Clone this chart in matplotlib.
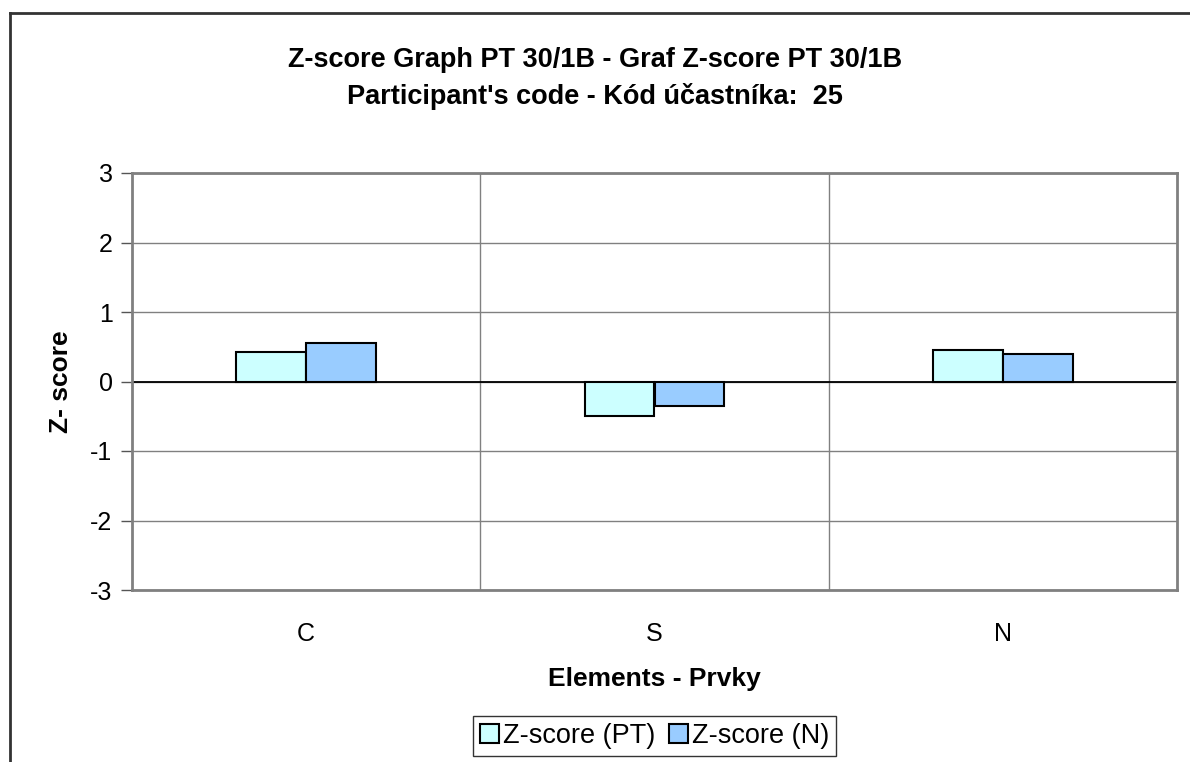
import matplotlib
matplotlib.use('Agg')
import matplotlib.pyplot as plt
from matplotlib.lines import Line2D
import numpy as np

# Data
elements = ['C', 'S', 'N']
z_pt = [0.42, -0.50, 0.45]
z_n = [0.56, -0.35, 0.40]

plt.rcParams['font.family'] = ['Liberation Sans', 'DejaVu Sans']
plt.rcParams['axes.unicode_minus'] = False

W, H = 1190, 762
fig = plt.figure(figsize=(W / 100, H / 100), dpi=100)

# plot area placed in pixel terms
left, right, top, bottom = 132, 1177, 173, 590
ax = fig.add_axes([left / W, 1 - bottom / H, (right - left) / W, (bottom - top) / H])

x = np.arange(len(elements))
w = 0.2
ax.bar(x - w / 2, z_pt, w, color='#CCFFFF', edgecolor='black', linewidth=1.5,
       label='Z-score (PT)', zorder=3)
ax.bar(x + w / 2, z_n, w, color='#99CCFF', edgecolor='black', linewidth=1.5,
       label='Z-score (N)', zorder=3)

ax.set_xlim(-0.5, len(elements) - 0.5)
ax.set_ylim(-3, 3)
ax.set_yticks(range(-3, 4))
ax.set_xticks(x)
ax.set_xticklabels(elements, fontsize=18)
ax.set_xticks(np.arange(0.5, len(elements) - 0.5), minor=True)
ax.tick_params(axis='x', which='both', length=0, pad=23)
ax.tick_params(axis='y', labelsize=18, length=8, width=1, color='#555555', pad=6)

ax.grid(axis='y', color='#808080', linewidth=1, zorder=0)
ax.grid(axis='x', which='minor', color='#808080', linewidth=1, zorder=0)
ax.axhline(0, color='black', linewidth=1.3, zorder=2)
for s in ax.spines.values():
    s.set_color('#808080')
    s.set_linewidth(2)

ax.set_xlabel('Elements - Prvky', fontsize=19, fontweight='bold')
ax.xaxis.set_label_coords(0.5, -0.185)
ax.set_ylabel('Z- score', fontsize=19, fontweight='bold')
ax.yaxis.set_label_coords(-0.056, 0.5)

fig.text(0.5, 1 - 60 / H, "Z-score Graph PT 30/1B - Graf Z-score PT 30/1B",
         ha='center', va='center', fontsize=19.5, fontweight='bold')
fig.text(0.5, 1 - 97 / H, "Participant's code - Kód účastníka:  25",
         ha='center', va='center', fontsize=19.5, fontweight='bold')

leg = ax.legend(loc='center', bbox_to_anchor=(654.5 / W, 1 - 736 / H),
                bbox_transform=fig.transFigure, ncol=2, fontsize=19.5,
                frameon=True, fancybox=False, edgecolor='black',
                handlelength=0.7, handleheight=0.7, handletextpad=0.15,
                columnspacing=0.5, borderpad=0.25, borderaxespad=0)
leg.get_frame().set_linewidth(1)

# chart border (only top and left edges are visible in the reference)
fig.add_artist(Line2D([10 / W, 1], [1 - 13 / H, 1 - 13 / H], color='#333333', linewidth=2))
fig.add_artist(Line2D([10 / W, 10 / W], [0, 1 - 13 / H], color='#333333', linewidth=2))

fig.savefig('out.png', dpi=100)
